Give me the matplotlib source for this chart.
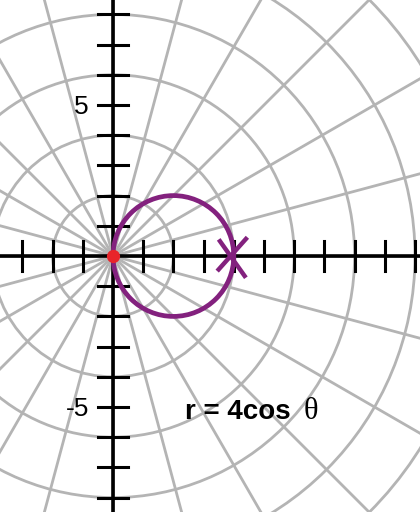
import numpy as np
import matplotlib.pyplot as plt
from matplotlib.patches import Circle

# polar curve r = a cos(theta) -> circle with center (a/2, 0), radius a/2
a = 4
grid_radii = [2, 4, 6, 8, 10, 12, 14]
grid_angles_deg = list(range(0, 360, 15))
x_ticks = [-3, -2, -1, 1, 2, 3, 4, 5, 6, 7, 8, 9, 10]
y_ticks = [-8, -7, -6, -5, -4, -3, -2, -1, 1, 2, 3, 4, 5, 6, 7, 8]
y_labels = {5: '5', -5: '-5'}
arrow_point = (4, 0)

purple = '#83217e'
gray = '#b4b4b4'

fig = plt.figure(figsize=(4.2, 5.12), dpi=100)
ax = fig.add_axes([0, 0, 1, 1])
ax.set_xlim(-113 / 30.2, 307 / 30.2)
ax.set_ylim(-256 / 30.2, 256 / 30.2)
ax.set_aspect('equal')
ax.axis('off')

# polar grid
for r in grid_radii:
    ax.add_patch(Circle((0, 0), r, fill=False, color=gray, lw=2.0, zorder=1))
for ang in grid_angles_deg:
    t = np.deg2rad(ang)
    ax.plot([0, 16 * np.cos(t)], [0, 16 * np.sin(t)], color=gray, lw=2.0, zorder=1)

# axes
ax.axhline(0, color='black', lw=2.6, zorder=2)
ax.axvline(0, color='black', lw=2.6, zorder=2)
h = 0.5
for xt in x_ticks:
    ax.plot([xt, xt], [-h, h], color='black', lw=2.2, zorder=2)
for yt in y_ticks:
    ax.plot([-h, h], [yt, yt], color='black', lw=2.2, zorder=2)
for yt, lab in y_labels.items():
    ax.text(-0.8, yt - 0.07, lab, ha='right', va='center', fontsize=19,
            family='Liberation Sans', zorder=3)

# curve
ax.add_patch(Circle((a / 2, 0), a / 2, fill=False, color=purple, lw=3.4, zorder=4))
px, py = arrow_point
ax.plot([px - 0.5, px + 0.4], [py + 0.55, py - 0.72], color=purple, lw=3.2,
        solid_capstyle='butt', zorder=4)
ax.plot([px + 0.45, px - 0.55], [py + 0.62, py - 0.5], color=purple, lw=3.2,
        solid_capstyle='butt', zorder=4)

# pole
ax.plot(0, 0, 'o', color='#e8242a', ms=8.5, zorder=5)

# label
fig.text(185 / 420, 1 - 419 / 512, 'r = 4cos', fontsize=20, fontweight='bold',
         family='Liberation Sans', ha='left', va='baseline')
fig.text(304 / 420, 1 - 419 / 512, '\u03b8', fontsize=22,
         family='Liberation Serif', ha='left', va='baseline')

fig.savefig('out.png', dpi=100)
